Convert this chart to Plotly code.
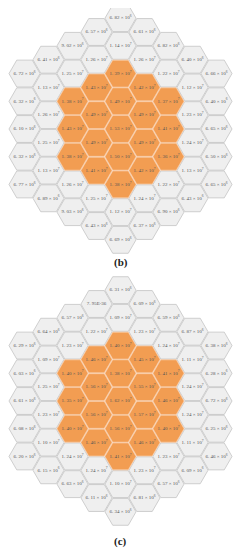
import numpy as np
import plotly.graph_objects as go

# ---- data: values per hex column (left -> right, top -> bottom) ----
b_values = [
    [6.72e6, 6.32e6, 6.10e6, 6.32e6, 6.77e6],
    [6.41e6, 1.13e7, 1.26e7, 1.25e7, 1.13e7, 6.89e6],
    [9.02e6, 1.25e7, 1.38e7, 1.43e7, 1.38e7, 1.26e7, 9.03e6],
    [6.57e6, 1.26e7, 1.43e7, 1.49e7, 1.49e7, 1.41e7, 1.25e7, 6.43e6],
    [6.82e6, 1.14e7, 1.39e7, 1.49e7, 1.53e7, 1.50e7, 1.38e7, 1.12e7, 6.69e6],
    [6.61e6, 1.26e7, 1.42e7, 1.49e7, 1.49e7, 1.42e7, 1.24e7, 6.37e6],
    [6.82e6, 1.22e7, 1.37e7, 1.41e7, 1.36e7, 1.22e7, 6.90e6],
    [6.40e6, 1.12e7, 1.23e7, 1.24e7, 1.13e7, 6.43e6],
    [6.66e6, 6.40e6, 6.65e6, 6.50e6, 6.65e6],
]

c_values = [
    [6.29e6, 6.03e6, 6.61e6, 6.08e6, 6.20e6],
    [6.64e6, 1.09e7, 1.25e7, 1.23e7, 1.10e7, 6.15e6],
    [6.57e6, 1.23e7, 1.40e7, 1.35e7, 1.40e7, 1.24e7, 6.63e6],
    [7.95e-36, 1.22e7, 1.46e7, 1.56e7, 1.56e7, 1.46e7, 1.24e7, 6.11e6],
    [6.31e6, 1.09e7, 1.40e7, 1.38e7, 1.62e7, 1.56e7, 1.41e7, 1.10e7, 6.34e6],
    [6.09e6, 1.23e7, 1.45e7, 1.55e7, 1.57e7, 1.46e7, 1.23e7, 6.81e6],
    [6.59e6, 1.24e7, 1.41e7, 1.46e7, 1.40e7, 1.23e7, 6.57e6],
    [6.87e6, 1.11e7, 1.24e7, 1.24e7, 1.11e7, 6.09e6],
    [6.38e6, 6.28e6, 6.72e6, 6.25e6, 6.46e6],
]

panel_labels = ["(b)", "(c)"]
highlight_threshold = 1.3e7

# ---- style ----
GRAY_FILL = "#efefef"
GRAY_LINE = "#c4c4c4"
ORANGE_FILL = "#f29d52"
ORANGE_LINE = "#f6c49a"
TEXT_COLOR = "#555555"
SQ3 = np.sqrt(3)
HEX_R = 0.97

WIN_W, WIN_H = 241, 550
OFF = 8            # default page margin of the html body
W, H = WIN_W - OFF, WIN_H - OFF
PX = 16.0          # pixels per hex unit


def fmt(v):
    m, e = f"{v:.2e}".split("e")
    e = int(e)
    if e < 0:
        return f"{m[0]}. {m[2:]}E{e}"
    return f"{m[0]}. {m[2:]} × 10<sup>{e}</sup>"


def hex_path(cx, cy, r):
    xs, ys = [], []
    for k in range(7):
        a = np.pi / 3 * k
        xs.append(cx + r * np.cos(a))
        ys.append(cy + r * np.sin(a))
    return xs, ys


fig = go.Figure()
centers_y = [-129 / PX, -401 / PX]
label_y = [-262 / PX, -541 / PX]

for grid, cy0, ly, lab in zip([b_values, c_values], centers_y, label_y, panel_labels):
    polys = {"g": ([], []), "o": ([], [])}
    tx, ty, tt = [], [], []
    ncol = len(grid)
    for ci, col in enumerate(grid):
        q = ci - (ncol - 1) / 2
        cx = q * 1.5
        n = len(col)
        for k, v in enumerate(col):
            cy = cy0 - (k - (n - 1) / 2) * SQ3
            key = "o" if v > highlight_threshold else "g"
            xs, ys = hex_path(cx, cy, HEX_R)
            polys[key][0].extend(xs + [None])
            polys[key][1].extend(ys + [None])
            tx.append(cx)
            ty.append(cy)
            tt.append(fmt(v))
    for key, fill, line in [("g", GRAY_FILL, GRAY_LINE), ("o", ORANGE_FILL, ORANGE_LINE)]:
        fig.add_trace(go.Scatter(x=polys[key][0], y=polys[key][1], mode="lines",
                                 fill="toself", fillcolor=fill,
                                 line=dict(color=line, width=0.8),
                                 hoverinfo="skip", showlegend=False))
    fig.add_trace(go.Scatter(x=tx, y=ty, mode="text", text=tt,
                             textfont=dict(family="Liberation Serif", size=5, color=TEXT_COLOR),
                             hoverinfo="skip", showlegend=False))
    fig.add_annotation(x=0, y=ly, text=f"<b>{lab}</b>", showarrow=False,
                       font=dict(family="Liberation Serif", size=11, color="#222222"))

cx_win = 120.5
fig.update_layout(
    width=W, height=H,
    margin=dict(l=0, r=0, t=0, b=0),
    paper_bgcolor="white", plot_bgcolor="white",
    xaxis=dict(range=[(OFF - cx_win) / PX, (WIN_W - cx_win) / PX], visible=False, fixedrange=True),
    yaxis=dict(range=[-WIN_H / PX, -OFF / PX], visible=False, fixedrange=True),
)
fig.write_html("out.html")
